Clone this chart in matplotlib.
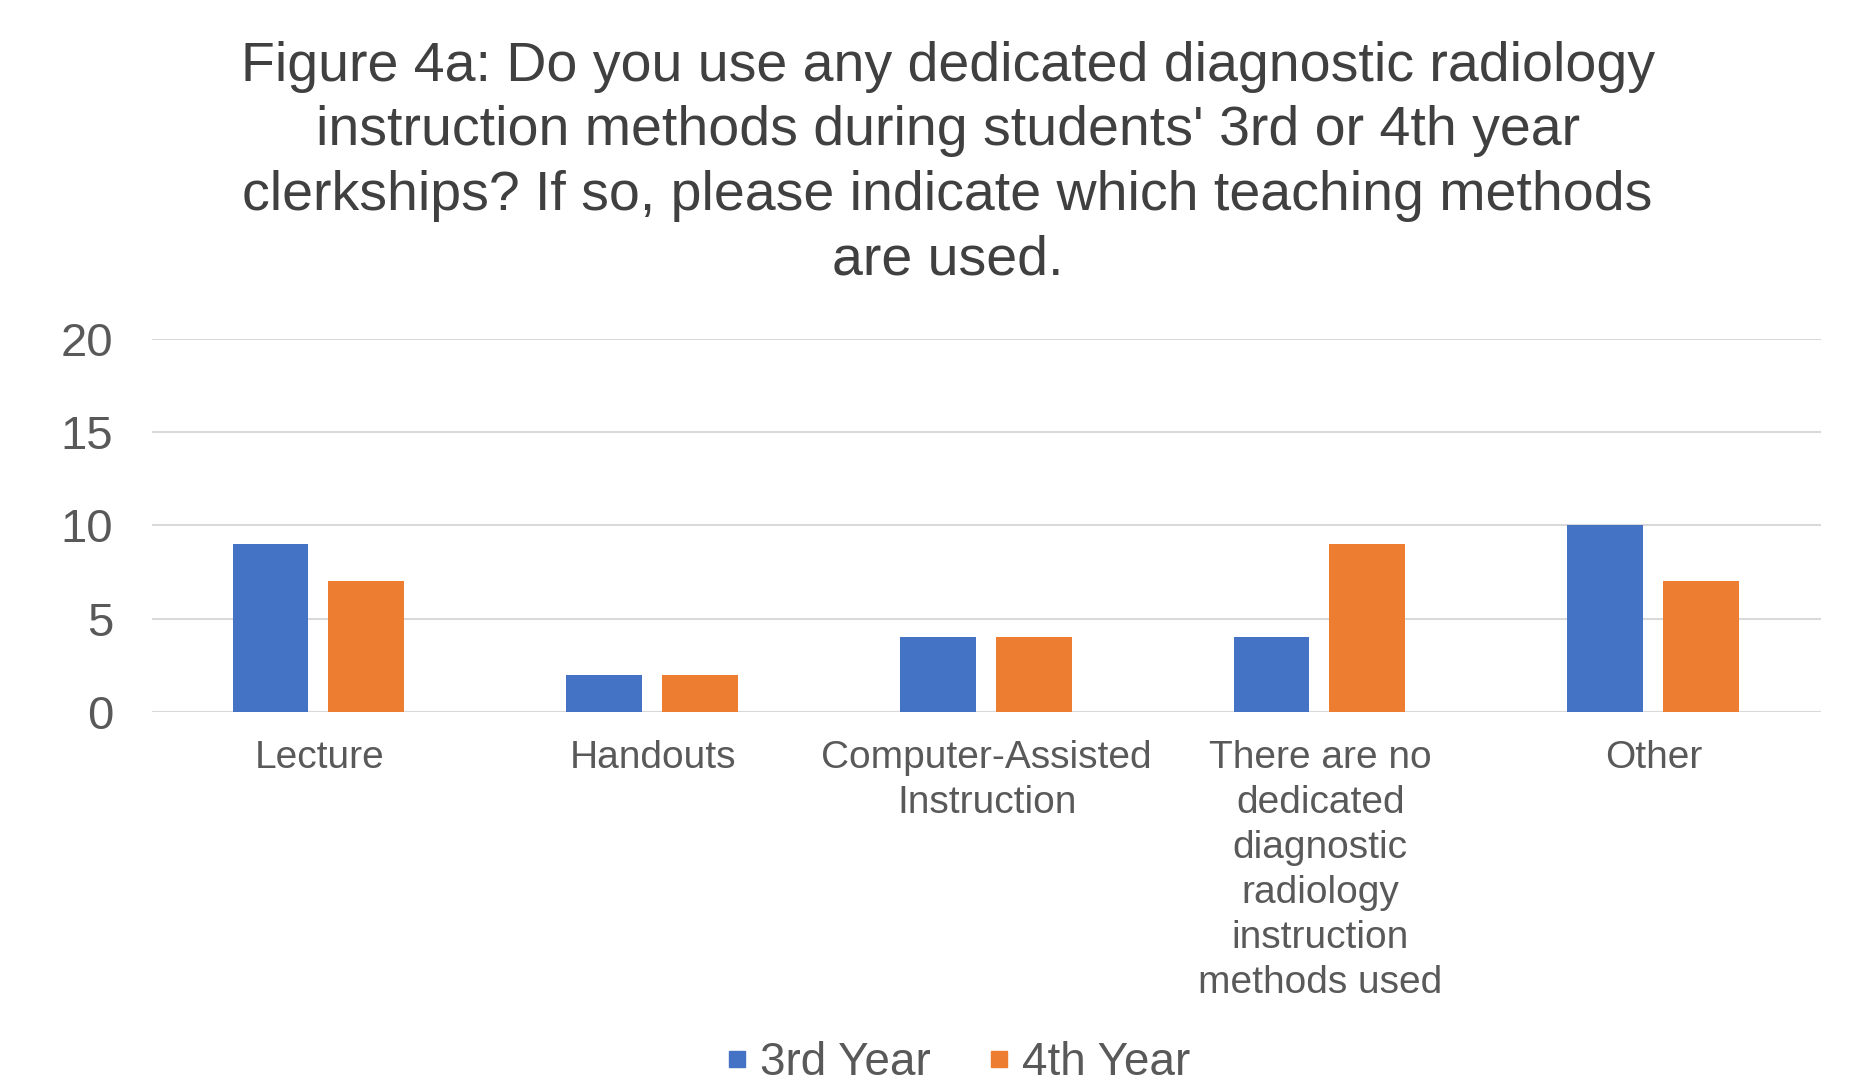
import matplotlib.pyplot as plt
import numpy as np
from matplotlib.lines import Line2D

plt.rcParams['font.family'] = ['Liberation Sans', 'DejaVu Sans']

categories = ["Lecture", "Handouts", "Computer-Assisted\nInstruction",
              "There are no\ndedicated\ndiagnostic\nradiology\ninstruction\nmethods used",
              "Other"]
third_year = [9, 2, 4, 4, 10]
fourth_year = [7, 2, 4, 9, 7]
series_names = ["3rd Year", "4th Year"]

blue = "#4472C4"
orange = "#ED7D31"
text_col = "#595959"

fig = plt.figure(figsize=(18.58, 10.92), dpi=100)
ax = fig.add_axes([0.082, 0.348, 0.898, 0.342])

x = np.arange(len(categories))
w = 0.227
ax.bar(x - 0.146, third_year, width=w, color=blue, zorder=3)
ax.bar(x + 0.141, fourth_year, width=w, color=orange, zorder=3)

ax.set_xlim(-0.5, len(categories) - 0.5)
ax.set_ylim(0, 20)
ax.set_yticks([0, 5, 10, 15, 20])
ax.yaxis.grid(True, color="#D9D9D9", linewidth=1.5, zorder=0)
ax.set_axisbelow(True)
for s in ax.spines.values():
    s.set_visible(False)
ax.axhline(0, color="#D9D9D9", linewidth=1.5, zorder=1)

ax.tick_params(axis='y', length=0, pad=28, labelsize=34, labelcolor=text_col)
ax.tick_params(axis='x', length=0, pad=20, labelcolor=text_col)
ax.set_xticks(x)
ax.set_xticklabels(categories, fontsize=28, linespacing=1.32, va='top')

fig.text(0.510, 1 - 41 / 1092,
         "Figure 4a: Do you use any dedicated diagnostic radiology\n"
         "instruction methods during students' 3rd or 4th year\n"
         "clerkships? If so, please indicate which teaching methods\n"
         "are used.",
         ha='center', va='top', fontsize=40, color="#404040", linespacing=1.31)

handles = [Line2D([], [], marker='s', linestyle='none', markersize=12, color=blue),
           Line2D([], [], marker='s', linestyle='none', markersize=12, color=orange)]
fig.legend(handles, series_names, loc='center', bbox_to_anchor=(0.515, 1 - 1063 / 1092),
           ncol=2, frameon=False, fontsize=33, labelcolor=text_col,
           handlelength=0.6, handletextpad=0.2, columnspacing=1.2)

fig.savefig("out.png", dpi=100)
